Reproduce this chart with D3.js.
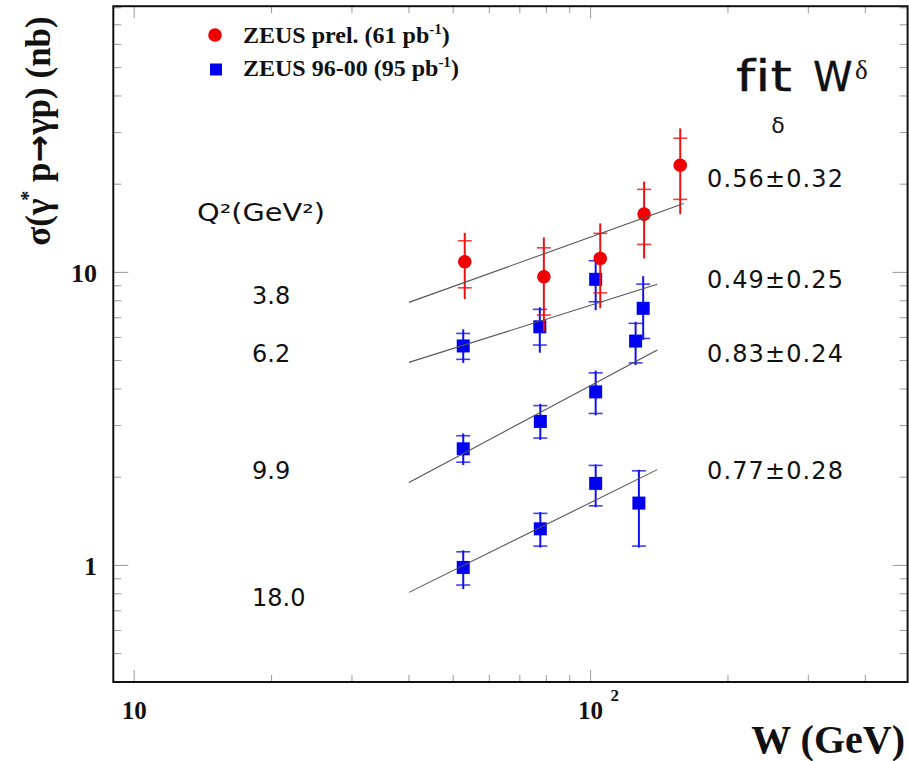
<!DOCTYPE html>
<html>
<head>
<meta charset="utf-8">
<script src="https://cdn.jsdelivr.net/npm/d3@7"></script>
<style>
  body { margin: 0; background: #fff; }
  svg { display: block; }
  text { font-variant-ligatures: none; }
</style>
</head>
<body>
<svg id="chart" width="909" height="761"></svg>
<script>
// ZEUS prel. (61 pb^-1), Q^2 = 3.8 GeV^2
const prelW      = [53.0, 79.0, 105.0, 131.0, 157.2];
const prelSigma  = [10.87, 9.66, 11.16, 15.81, 23.2];
const prelStatHi = [12.82, 12.13, 13.59, 19.2, 28.7];
const prelStatLo = [8.86, 7.15, 8.52, 12.46, 17.75];
const prelTotHi  = [13.65, 13.16, 14.7, 20.4, 31.0];
const prelTotLo  = [8.11, 6.27, 7.54, 11.16, 15.8];

// ZEUS 96-00 (95 pb^-1), Q^2 = 6.2 GeV^2
const q62W      = [52.6, 77.4, 102.6, 130.4];
const q62Sigma  = [5.61, 6.52, 9.47, 7.54];
const q62StatHi = [6.19, 7.48, 10.96, 9.12];
const q62StatLo = [5.05, 5.65, 7.94, 5.95];
const q62TotHi  = [6.39, 7.6, 11.46, 9.71];
const q62TotLo  = [4.91, 5.32, 7.43, 5.89];

// ZEUS 96-00, Q^2 = 9.9 GeV^2
const q99W      = [52.6, 77.6, 102.6, 125.5];
const q99Sigma  = [2.50, 3.10, 3.91, 5.83];
const q99StatHi = [2.77, 3.51, 4.54, 6.70];
const q99StatLo = [2.25, 2.72, 3.30, 4.91];
const q99TotHi  = [2.82, 3.56, 4.62, 6.78];
const q99TotLo  = [2.20, 2.68, 3.25, 4.83];

// ZEUS 96-00, Q^2 = 18.0 GeV^2
const q18W      = [52.6, 77.6, 102.6, 127.6];
const q18Sigma  = [0.984, 1.333, 1.905, 1.632];
const q18StatHi = [1.113, 1.505, 2.194, 2.103];
const q18StatLo = [0.857, 1.164, 1.597, 1.164];
const q18TotHi  = [1.125, 1.52, 2.21, 2.12];
const q18TotLo  = [0.83, 1.15, 1.58, 1.15];

// W^delta fits, one per Q^2 bin
const fitQ2       = ["3.8", "6.2", "9.9", "18.0"];
const fitDelta    = [0.56, 0.49, 0.83, 0.77];
const fitDeltaErr = [0.32, 0.25, 0.24, 0.28];
const fitNormAt40 = [7.90, 4.93, 1.92, 0.809];
const fitWmin     = [40, 40, 40, 40];
const fitWmax     = [160, 140, 140, 140];

// Axis tick labels
const xTickLabels = [{v: 10, base: "10", sup: ""}, {v: 100, base: "10", sup: "2"}];
const yTickLabels = [{v: 10, text: "10"}, {v: 1, text: "1"}];

const svg = d3.select("#chart");
const frame = {left: 113.3, right: 907.6, top: 6.2, bottom: 682};

const x = d3.scaleLog().domain([9, 495]).range([frame.left, frame.right]);
const y = d3.scaleLog().domain([0.4, 81]).range([frame.bottom, frame.top]);

const serif = "'Liberation Serif', 'Times New Roman', serif";
const sans = "'DejaVu Sans', Verdana, sans-serif";

// ---- ticks (inside, mirrored on all four sides) ----
const tickG = svg.append("g").attr("stroke", "#9a9a9a").attr("stroke-width", 1);
const isMajor = v => Math.abs(Math.log10(v) - Math.round(Math.log10(v))) < 1e-9;
x.ticks().filter(v => v > 9.01 && v < 495).forEach(v => {
  const len = isMajor(v) ? 12 : 7;
  const px = x(v);
  tickG.append("line").attr("x1", px).attr("x2", px).attr("y1", frame.bottom).attr("y2", frame.bottom - len);
  tickG.append("line").attr("x1", px).attr("x2", px).attr("y1", frame.top).attr("y2", frame.top + len);
});
y.ticks().filter(v => v > 0.401 && v < 81).forEach(v => {
  const len = isMajor(v) ? 15 : 8;
  const py = y(v);
  tickG.append("line").attr("x1", frame.left).attr("x2", frame.left + len).attr("y1", py).attr("y2", py);
  tickG.append("line").attr("x1", frame.right).attr("x2", frame.right - len).attr("y1", py).attr("y2", py);
});

// ---- frame ----
svg.append("rect")
  .attr("x", frame.left).attr("y", frame.top)
  .attr("width", frame.right - frame.left).attr("height", frame.bottom - frame.top)
  .attr("fill", "none").attr("stroke", "#111").attr("stroke-width", 2);

// ---- tick labels ----
xTickLabels.forEach(t => {
  svg.append("text")
    .attr("x", x(t.v)).attr("y", 719)
    .attr("text-anchor", "middle")
    .attr("font-family", serif).attr("font-weight", "bold").attr("font-size", 25)
    .attr("fill", "#111").text(t.base);
  if (t.sup) {
    svg.append("text")
      .attr("x", x(t.v) + 20).attr("y", 701)
      .attr("font-family", serif).attr("font-weight", "bold").attr("font-size", 17)
      .attr("fill", "#111").text(t.sup);
  }
});
yTickLabels.forEach(t => {
  svg.append("text")
    .attr("x", 97).attr("y", y(t.v) + 9.5)
    .attr("text-anchor", "end")
    .attr("font-family", serif).attr("font-weight", "bold").attr("font-size", 26)
    .attr("fill", "#111").text(t.text);
});

// ---- axis titles ----
svg.append("text")
  .attr("x", 905).attr("y", 753)
  .attr("text-anchor", "end")
  .attr("font-family", serif).attr("font-weight", "bold").attr("font-size", 40)
  .attr("fill", "#111").text("W (GeV)");

const yTitle = svg.append("text")
  .attr("transform", "translate(50,131) rotate(-90)")
  .attr("text-anchor", "middle")
  .attr("font-family", serif).attr("font-weight", "bold").attr("font-size", 35)
  .attr("fill", "#111");
yTitle.append("tspan").text("σ(γ");
yTitle.append("tspan").attr("dy", -15).attr("dx", -2).attr("font-size", 20).text("*");
yTitle.append("tspan").attr("dy", 15).text(" p");
yTitle.append("tspan").attr("font-family", "'DejaVu Sans', sans-serif").attr("font-size", 33).text("→");
yTitle.append("tspan").text("γp) (nb)");

// ---- data series ----
function rows(W, s, sHi, sLo, tHi, tLo) {
  return W.map((w, i) => ({w, s: s[i], sHi: sHi[i], sLo: sLo[i], tHi: tHi[i], tLo: tLo[i]}));
}
const prel = rows(prelW, prelSigma, prelStatHi, prelStatLo, prelTotHi, prelTotLo);
const blue = [
  rows(q62W, q62Sigma, q62StatHi, q62StatLo, q62TotHi, q62TotLo),
  rows(q99W, q99Sigma, q99StatHi, q99StatLo, q99TotHi, q99TotLo),
  rows(q18W, q18Sigma, q18StatHi, q18StatLo, q18TotHi, q18TotLo)
];

function errorBars(data, color) {
  const g = svg.append("g").attr("stroke", color);
  g.selectAll("line.v").data(data).join("line")
    .attr("x1", d => x(d.w)).attr("x2", d => x(d.w))
    .attr("y1", d => y(d.tLo)).attr("y2", d => y(d.tHi))
    .attr("stroke-width", 2);
  ["sHi", "sLo"].forEach(k => {
    g.selectAll("line." + k).data(data).join("line")
      .attr("x1", d => x(d.w) - 7).attr("x2", d => x(d.w) + 7)
      .attr("y1", d => y(d[k])).attr("y2", d => y(d[k]))
      .attr("stroke-width", 1.6).attr("stroke-opacity", 0.8);
  });
}

blue.forEach(b => errorBars(b, "#1010ee"));
blue.forEach(b => {
  svg.append("g").selectAll("rect").data(b).join("rect")
    .attr("x", d => x(d.w) - 6.5).attr("y", d => y(d.s) - 6.5)
    .attr("width", 13).attr("height", 13)
    .attr("fill", "#0000f0");
});
errorBars(prel, "#f01010");
svg.append("g").selectAll("circle").data(prel).join("circle")
  .attr("cx", d => x(d.w)).attr("cy", d => y(d.s)).attr("r", 6.8)
  .attr("fill", "#f00000");

// ---- fit curves sigma = N (W/40)^delta ----
const fitLine = d3.line().x(d => x(d[0])).y(d => y(d[1]));
fitDelta.forEach((dlt, i) => {
  const pts = [fitWmin[i], fitWmax[i]].map(w => [w, fitNormAt40[i] * Math.pow(w / 40, dlt)]);
  svg.append("path").datum(pts).attr("d", fitLine)
    .attr("fill", "none").attr("stroke", "#555").attr("stroke-width", 1.1);
});

// ---- legend ----
svg.append("circle").attr("cx", 215).attr("cy", 35).attr("r", 6.8).attr("fill", "#f00000");
svg.append("rect").attr("x", 210).attr("y", 63.5).attr("width", 12).attr("height", 12).attr("fill", "#0000f0");
function legendText(yb, label, lumi) {
  const t = svg.append("text").attr("x", 243).attr("y", yb)
    .attr("font-family", serif).attr("font-weight", "bold").attr("font-size", 24).attr("fill", "#111");
  t.append("tspan").text(label + " (" + lumi + " pb");
  t.append("tspan").attr("dy", -9).attr("font-size", 15).text("-1");
  t.append("tspan").attr("dy", 9).text(")");
}
legendText(43, "ZEUS prel.", "61");
legendText(76, "ZEUS 96-00", "95");

// ---- fit annotations ----
svg.append("text").attr("transform", "translate(736,91) scale(1.3,1)")
  .attr("font-family", sans).attr("font-size", 42).attr("fill", "#111")
  .attr("stroke", "#111").attr("stroke-width", 0.3).text("fit");
svg.append("text").attr("x", 813).attr("y", 91)
  .attr("font-family", sans).attr("font-size", 40).attr("fill", "#111")
  .attr("stroke", "#111").attr("stroke-width", 0.3).text("W");
svg.append("text").attr("x", 855).attr("y", 79)
  .attr("font-family", serif).attr("font-size", 27).attr("fill", "#111").text("δ");
svg.append("text").attr("x", 778).attr("y", 133).attr("text-anchor", "middle")
  .attr("font-family", sans).attr("font-size", 22).attr("fill", "#111").text("δ");

svg.append("text").attr("transform", "translate(197,221) scale(1.2,1)")
  .attr("font-family", sans).attr("font-size", 24).attr("fill", "#111").text("Q²(GeV²)");

const q2LabelY = [304, 362, 479, 606];
const deltaLabelY = [187, 288, 362, 479];
fitQ2.forEach((q, i) => {
  svg.append("text").attr("x", 252).attr("y", q2LabelY[i])
    .attr("font-family", sans).attr("font-size", 24).attr("fill", "#111").text(q);
  svg.append("text").attr("x", 707).attr("y", deltaLabelY[i])
    .attr("font-family", sans).attr("font-size", 24).attr("fill", "#111")
    .attr("textLength", 136).attr("lengthAdjust", "spacing")
    .text(fitDelta[i].toFixed(2) + "±" + fitDeltaErr[i].toFixed(2));
});
</script>
</body>
</html>
